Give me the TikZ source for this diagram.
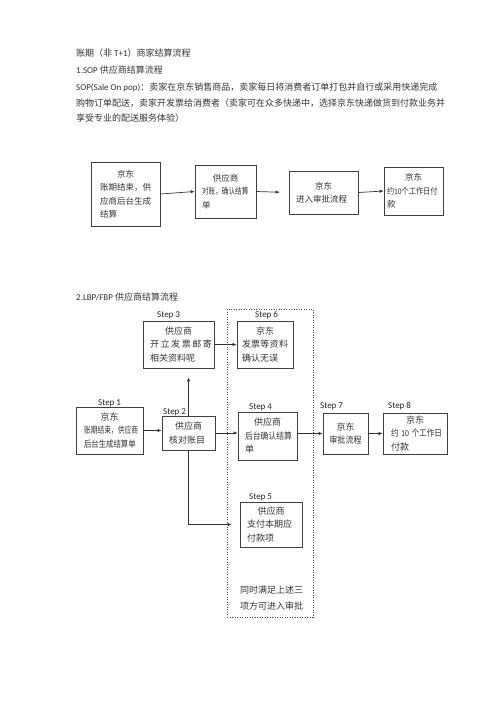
\documentclass[tikz,border=0pt]{standalone}
\usepackage{fontspec}
\setmainfont{Noto Sans CJK SC}
\newfontfamily\lat{Carlito}
\usepackage{graphicx}
\usetikzlibrary{arrows.meta}
\setlength{\parindent}{0pt}
\newcommand\ctl[1]{\leavevmode\hbox to\hsize{\hss#1\hss}}
\newcommand\sqz[2]{\scalebox{#1}[1]{#2}}
\tikzset{
txt/.style={inner sep=0pt, text=black!80, font=\fontsize{9}{16}\selectfont},
box/.style={draw=black!75, line width=0.7pt, inner ysep=2pt, align=left, text=black!80},
smallbox/.style={box, font=\fontsize{8.5}{13.5}\selectfont},
bigbox/.style={box, font=\fontsize{9}{13.5}\selectfont},
grpbox/.style={draw=black!70, line width=0.8pt, dash pattern=on 1pt off 1.5pt},
steplbl/.style={anchor=west, inner sep=0pt, text=black!85, font=\lat\fontsize{9}{10}\selectfont},
arr/.style={draw=black!80, line width=0.7pt, -{Latex[length=4pt,width=3.5pt]}},
}
\begin{document}
\begin{tikzpicture}[x=1pt,y=-1pt]
\useasboundingbox (0,0) rectangle (500,707);
% the heading text
\node[txt,anchor=base west] (hdr1) at (76,56.4) {账期（非 {\lat T+1}）商家结算流程};
\node[txt,anchor=base west] (hdr2) at (76,73.4) {{\lat 1.SOP} 供应商结算流程};
\node[txt,anchor=base west] (intro1) at (76,90.4) {{\lat SOP(Sale On pop)}：卖家在京东销售商品，卖家每日将消费者订单打包并自行或采用快递完成};
\node[txt,anchor=base west] (intro2) at (76,106.4) {购物订单配送，卖家开发票给消费者（卖家可在众多快递中，选择京东快递做货到付款业务并};
\node[txt,anchor=base west] (intro3) at (76,121.8) {享受专业的配送服务体验）};
% the SOP flow
\node[smallbox, text width=51pt, inner xsep=9pt, minimum height=64pt] (a1) at (125.5,194)
  {\ctl{京东}\\账期结束，供\\应商后台生成\\结算};
\node[smallbox, text width=47pt, inner xsep=7pt, minimum height=53pt] (a2) at (225.5,191.5)
  {\ctl{供应商}\\\sqz{0.78}{对账，确认结算}\\单};
\node[smallbox, text width=55pt, inner xsep=7pt, minimum height=43pt] (a3) at (323.5,192.5)
  {\ctl{京东}\\进入审批流程};
\node[smallbox, text width=53pt, inner xsep=3pt, minimum height=48pt] (a4) at (413.5,191)
  {\ctl{京东}\\\sqz{0.85}{约{\lat 10}个工作日付}\\款};
\draw[arr] (a1.east) -- (a2.west);
\draw[arr,shorten >=9pt] (a2.east) -- (a3.west);
\draw[arr] (a3.east) -- (a4.west);
% the LBP/FBP flow
\node[txt,anchor=base west] (hdr3) at (76,300.4) {{\lat 2.LBP/FBP} 供应商结算流程};
\node[grpbox, minimum width=86pt, minimum height=308pt] (grp) at (270,463) {};
\node[bigbox, text width=57pt, inner xsep=7pt, minimum height=47pt] (b3) at (178.5,344.5)
  {\ctl{供应商}\\\makebox[62pt][s]{开\hfill 立\hfill 发\hfill 票\hfill 邮\hfill 寄}\\相关资料呢};
\node[bigbox, text width=46pt, inner xsep=5pt, minimum height=47pt] (b6) at (265,344.5)
  {\ctl{京东}\\\makebox[46pt][s]{发\hfill 票\hfill 等\hfill 资\hfill 料}\\确认无误};
\node[bigbox, text width=51pt, inner xsep=8pt, minimum height=47pt] (b1) at (109.5,430.5)
  {\ctl{京东}\\\sqz{0.75}{账期结束，供应商}\\\sqz{0.82}{后台生成结算单}};
\node[bigbox, text width=39pt, inner xsep=7pt, minimum height=34pt] (b2) at (188.5,433)
  {\ctl{供应商}\\核对账目};
\node[bigbox, text width=45pt, inner xsep=7pt, minimum height=48pt] (b4) at (267.5,436)
  {\ctl{供应商}\\\sqz{0.87}{后台确认结算}\\单};
\node[bigbox, text width=33pt, inner xsep=6pt, minimum height=41pt] (b7) at (345.5,433.5)
  {\ctl{京东}\\\ctl{\sqz{0.9}{审批流程}}};
\node[bigbox, text width=48pt, inner xsep=8pt, minimum height=41pt] (b8) at (415,433.5)
  {\ctl{京东}\\\sqz{0.85}{约 {\lat 10} 个工作日}\\付款};
\node[bigbox, text width=48pt, inner xsep=7pt, minimum height=45pt] (b5) at (271,524.5)
  {\ctl{供应商}\\支付本期应\\付款项};
\node[txt, anchor=north west, align=left] (note) at (240,585.5) {同时满足上述三\\项方可进入审批};
% the step labels
\node[steplbl] (s1) at (98,403) {Step 1};
\node[steplbl] (s2) at (163,412) {Step 2};
\node[steplbl] (s3) at (157,315) {Step 3};
\node[steplbl] (s4) at (249,407) {Step 4};
\node[steplbl] (s5) at (249,497) {Step 5};
\node[steplbl] (s6) at (255,315) {Step 6};
\node[steplbl] (s7) at (320,406) {Step 7};
\node[steplbl] (s8) at (388,406) {Step 8};
% the arrows
\draw[arr] (b1.east) -- (b1.east -| b2.west);
\draw[arr,shorten >=9pt] (b2.north) -- (b2.north |- b3.south);
\draw[arr] (b3.east) -- (b6.west);
\draw[arr] (b2.east) -- (b2.east -| b4.west);
\draw[arr] (b4.east |- b7.west) -- (b7.west);
\draw[arr] (b7.east) -- (b8.west);
\draw[arr,shorten >=8pt] (b2.south) |- (b5.west);
\end{tikzpicture}
\end{document}
